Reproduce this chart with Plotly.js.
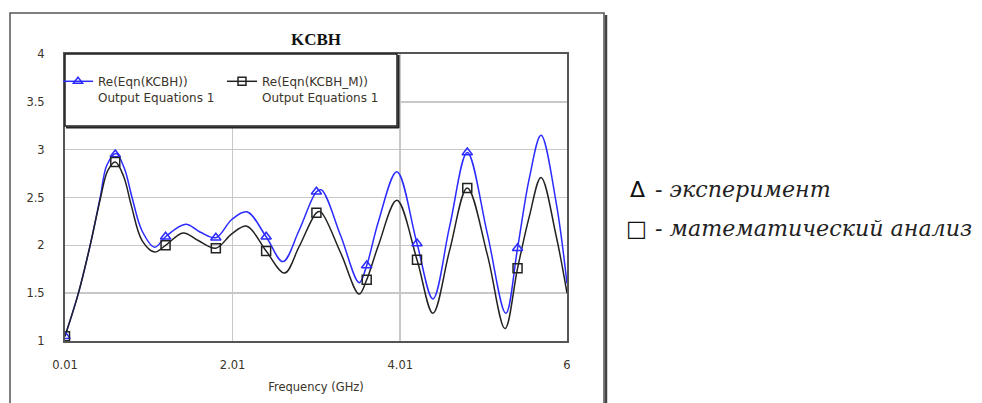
<!DOCTYPE html>
<html><head><meta charset="utf-8">
<script src="https://cdn.plot.ly/plotly-3.0.1.min.js"></script>
<style>html,body{margin:0;padding:0;background:#fff}#chart{width:982px;height:403px}</style>
</head><body><div id="chart"></div>
<script>
// ---- data ----
const blueFreq = [0.01,0.17,0.31,0.43,0.51,0.62,0.72,0.81,0.93,1.08,1.21,1.45,1.62,1.81,2.00,2.18,2.41,2.61,2.80,3.01,3.07,3.30,3.52,3.61,3.75,3.97,4.21,4.40,4.60,4.81,5.05,5.27,5.41,5.55,5.69,5.87,6.00];
const blueVals = [1.05,1.50,2.00,2.50,2.84,2.96,2.80,2.50,2.15,1.98,2.09,2.22,2.14,2.08,2.27,2.35,2.09,1.83,2.15,2.56,2.58,2.10,1.61,1.79,2.25,2.77,2.02,1.44,2.20,2.97,2.12,1.29,1.97,2.70,3.15,2.45,1.60];
const blackFreq = [0.01,0.17,0.31,0.43,0.52,0.61,0.71,0.80,0.93,1.08,1.21,1.42,1.60,1.81,2.00,2.18,2.41,2.63,2.80,3.01,3.06,3.30,3.52,3.61,3.75,3.97,4.21,4.40,4.60,4.81,5.05,5.26,5.41,5.55,5.69,5.87,6.00];
const blackVals = [1.05,1.50,2.00,2.48,2.78,2.87,2.72,2.42,2.05,1.93,2.00,2.13,2.05,1.97,2.12,2.20,1.94,1.71,1.98,2.34,2.35,1.92,1.49,1.64,2.00,2.47,1.85,1.29,1.95,2.60,1.90,1.13,1.76,2.30,2.71,2.10,1.50];
const markerFreq = [0.01,0.61,1.21,1.81,2.41,3.01,3.61,4.21,4.81,5.41];
const blueMarkers = [1.05,2.95,2.09,2.08,2.09,2.56,1.79,2.02,2.97,1.97];
const blackMarkers = [1.05,2.87,2.00,1.97,1.94,2.34,1.64,1.85,2.60,1.76];
const xTickVals = [0.01,2.01,4.01,6];
const xTickText = ["0.01","2.01","4.01","6"];
const seriesNames = ["Re(Eqn(KCBH))<br>Output Equations 1","Re(Eqn(KCBH_M))<br>Output Equations 1"];
const titleText = "KCBH";
const xTitle = "Frequency (GHz)";
const noteSymbols = ["Δ","□"];
const noteLabels = ["- эксперимент","- математический анализ"];

// ---- geometry (pixels) ----
const W = 982, H = 403, L = 65, R = 567, T = 54, B = 341;
const PW = R - L, PH = B - T;
const px = v => (v - L) / PW;
const py = v => (B - v) / PH;

const BLUE = '#2b2bff', BLACK = '#222222';
const tickFont = {family:'DejaVu Sans', size:11.5, color:'#3a3328'};

const traces = [
  {x: blueFreq, y: blueVals, mode:'lines', line:{color:BLUE, width:1.5, shape:'spline'}, showlegend:false, hoverinfo:'skip'},
  {x: blackFreq, y: blackVals, mode:'lines', line:{color:BLACK, width:1.5, shape:'spline'}, showlegend:false, hoverinfo:'skip'},
  {x: markerFreq, y: blueMarkers, mode:'markers', marker:{symbol:'triangle-up-open', size:9, color:BLUE, line:{width:1.5, color:BLUE}}, showlegend:false, hoverinfo:'skip'},
  {x: markerFreq, y: blackMarkers, mode:'markers', marker:{symbol:'square-open', size:9, color:BLACK, line:{width:1.5, color:BLACK}}, showlegend:false, hoverinfo:'skip'},
  {x:[null], y:[null], mode:'lines+markers', name: seriesNames[0], line:{color:BLUE, width:1.5}, marker:{symbol:'triangle-up-open', size:8, color:BLUE, line:{width:1.5, color:BLUE}}},
  {x:[null], y:[null], mode:'lines+markers', name: seriesNames[1], line:{color:BLACK, width:1.5}, marker:{symbol:'square-open', size:8, color:BLACK, line:{width:1.5, color:BLACK}}}
];

const layout = {
  width: W, height: H,
  margin: {l: L, r: W - R, t: T, b: H - B, pad: 0},
  paper_bgcolor: '#ffffff', plot_bgcolor: '#ffffff',
  title: {text: titleText, x: 0.5, xref: 'paper', xanchor: 'center', y: 1 - 39 / H, yref: 'container', yanchor: 'middle',
          font: {family: 'Liberation Serif', size: 17, weight: 'bold', color: '#111'}},
  xaxis: {range: [0.01, 6], tickvals: xTickVals, ticktext: xTickText, showgrid: true, gridcolor: '#c8c8c8', gridwidth: 1.5,
          showline: true, linecolor: '#555', linewidth: 2, mirror: true, ticks: '', zeroline: false,
          tickfont: tickFont, ticklabelstandoff: 12,
          title: {text: xTitle, font: {family: 'DejaVu Sans', size: 11.5, color: '#3a3328'}, standoff: 12}},
  yaxis: {range: [1, 4], tick0: 1, dtick: 0.5, showgrid: true, gridcolor: '#c8c8c8', gridwidth: 1.5,
          showline: true, linecolor: '#555', linewidth: 2, mirror: true, ticks: '', zeroline: false,
          tickfont: tickFont, ticklabelstandoff: 16},
  showlegend: true,
  legend: {x: px(58), y: py(67), xanchor: 'left', yanchor: 'top', orientation: 'h', entrywidth: 119, entrywidthmode: 'pixels',
           valign: 'top', bgcolor: 'rgba(0,0,0,0)', borderwidth: 0, traceorder: 'normal',
           font: {family: 'DejaVu Sans', size: 12, color: '#3a3328'}},
  shapes: [
    {type: 'rect', xref: 'paper', yref: 'paper', x0: px(10), x1: px(604), y0: py(430), y1: py(13), line: {color: '#555', width: 1.5}, layer: 'below'},
    {type: 'line', xref: 'paper', yref: 'paper', x0: px(606), x1: px(606), y0: py(430), y1: py(15), line: {color: '#444', width: 2.5}},
    {type: 'rect', xref: 'paper', yref: 'paper', x0: px(65), x1: px(397), y0: py(126), y1: py(54), fillcolor: '#ffffff', line: {color: '#222', width: 1.5}, layer: 'above'},
    {type: 'line', xref: 'paper', yref: 'paper', x0: px(66), x1: px(399), y0: py(127.5), y1: py(127.5), line: {color: '#222', width: 2}, layer: 'above'},
    {type: 'line', xref: 'paper', yref: 'paper', x0: px(398.5), x1: px(398.5), y0: py(128), y1: py(55), line: {color: '#222', width: 2}, layer: 'above'}
  ],
  annotations: [
    {text: noteSymbols[0], xref: 'paper', yref: 'paper', x: px(637), y: py(189), xanchor: 'center', yanchor: 'middle', showarrow: false,
     font: {family: 'DejaVu Sans', size: 22, color: '#111'}},
    {text: noteSymbols[1], xref: 'paper', yref: 'paper', x: px(636), y: py(228), xanchor: 'center', yanchor: 'middle', showarrow: false,
     font: {family: 'DejaVu Sans', size: 22, color: '#111'}},
    {text: noteLabels[0], xref: 'paper', yref: 'paper', x: px(653), y: py(189), xanchor: 'left', yanchor: 'middle', showarrow: false,
     font: {family: 'DejaVu Serif', size: 22.2, style: 'italic', color: '#222'}},
    {text: noteLabels[1], xref: 'paper', yref: 'paper', x: px(653), y: py(228), xanchor: 'left', yanchor: 'middle', showarrow: false,
     font: {family: 'DejaVu Serif', size: 22.2, style: 'italic', color: '#222'}}
  ]
};

Plotly.newPlot('chart', traces, layout, {staticPlot: true, displayModeBar: false});
</script>
</body></html>
